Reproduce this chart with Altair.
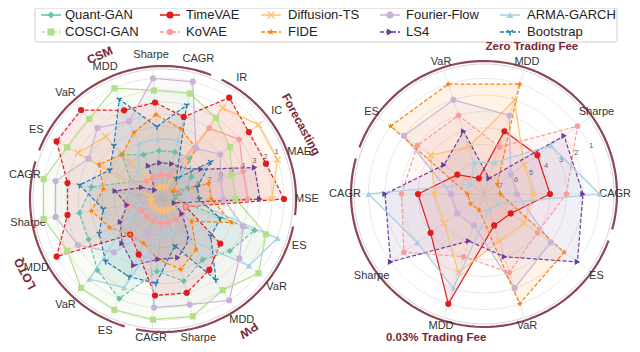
import math
import numpy as np
import pandas as pd
import altair as alt

# ---------------- data ----------------
models = ["Quant-GAN", "COSCI-GAN", "TimeVAE", "KoVAE", "Diffusion-TS", "FIDE",
          "Fourier-Flow", "LS4", "ARMA-GARCH", "Bootstrap"]
colors = ["#66c2a5", "#b2df8a", "#e31a1c", "#fb9a99", "#fdbf6f", "#ff7f00",
          "#cab2d6", "#6a3d9a", "#a6cee3", "#1f78b4"]
markers = ["diamond", "square", "circle", "hexagon", "x", "star",
           "circle", "triangle-right", "triangle-up", "tri_down"]
legend_dashed = [False, True, False, True, False, True, False, True, False, True]

left_axes = ["MSE", "MAE", "IC", "IR",
             "CAGR", "Sharpe", "MDD", "VaR", "ES",
             "CAGR", "Sharpe", "MDD", "VaR", "ES",
             "CAGR", "Sharpe", "MDD", "VaR", "ES"]
left_groups = ["Forecasting", "CSM", "LOTQ", "PW"]
left_group_sizes = [4, 5, 5, 5]
left_ticks = ["1", "2", "3", "4", "5", "6", "7", "8", "9", "10"]

# rank per left axis (1 = best)
quant_gan_left = [10, 9, 8, 7, 7, 7, 7, 6, 8, 5, 4, 4, 3, 2, 5, 4, 5, 4, 3]
cosci_gan_left = [5, 5, 4, 3, 2, 2, 1, 2, 2, 1, 1, 2, 1, 1, 1, 1, 2, 1, 2]
timevae_left = [1, 2, 2, 1, 4, 3, 3, 1, 1, 3, 3, 1, 7, 6, 3, 3, 4, 5, 9]
kovae_left = [4, 4, 3, 4, 9, 9, 9, 9, 8, 8, 8, 9, 9, 9, 9, 9, 9, 9, 9]
diffusion_left = [2, 1, 1, 2, 10, 10, 10, 4, 3, 10, 10, 10, 10, 10, 10, 10, 10, 10, 10]
fide_left = [7, 7, 10, 6, 5, 4, 5, 6, 5, 6, 5, 6, 7, 7, 6, 5, 6, 8, 5]
fourier_left = [6, 6, 5, 6, 1, 1, 4, 3, 4, 2, 2, 3, 5, 8, 2, 2, 1, 3, 4]
ls4_left = [3, 3, 7, 8, 8, 8, 8, 10, 9, 7, 8, 7, 6, 5, 6, 6, 7, 9, 10]
arma_left = [9, 9, 9, 8, 6, 6, 6, 8, 8, 8, 9, 8, 2, 3, 8, 8, 7, 2, 1]
bootstrap_left = [8, 8, 6, 9, 3, 5, 2, 5, 6, 4, 6, 5, 4, 4, 4, 7, 3, 6, 6]
left_dashed = [True, False, True, False, False, True, False, True, False, True]

right_axes = ["CAGR", "Sharpe", "MDD", "VaR", "ES",
              "CAGR", "Sharpe", "MDD", "VaR", "ES"]
right_groups = ["Zero Trading Fee", "0.03% Trading Fee"]
right_group_sizes = [5, 5]
right_ticks = ["1", "2", "3", "4", "5", "6", "7"]
right_models = ["TimeVAE", "KoVAE", "Diffusion-TS", "Fourier-Flow", "FIDE", "LS4", "ARMA-GARCH"]
timevae_right = [4, 4, 4, 7, 6, 4, 4, 1, 6, 6]
kovae_right = [3, 1, 5, 3, 3, 3, 2, 4, 3, 4]
diffusion_right = [5, 5, 2, 5, 4, 5, 5, 3, 5, 5]
fourier_right = [6, 6, 3, 2, 2, 6, 6, 6, 2, 3]
fide_right = [7, 7, 1, 1, 1, 7, 7, 7, 1, 2]
ls4_right = [2, 2, 7, 4, 5, 2, 1, 5, 4, 1]
arma_right = [1, 3, 6, 6, 7, 1, 3, 2, 7, 7]
right_dashed = [False, True, False, False, True, True, False]

left_ranks = [quant_gan_left, cosci_gan_left, timevae_left, kovae_left, diffusion_left,
              fide_left, fourier_left, ls4_left, arma_left, bootstrap_left]
right_ranks = [timevae_right, kovae_right, diffusion_right, fourier_right,
               fide_right, ls4_right, arma_right]

# ---------------- layout (screen pixels) ----------------
LEFT = dict(cx=163, cy=199, unit=12.1, nr=10, outer=130, tick_ang=22.5, lab_r=144)
RIGHT = dict(cx=484, cy=194, unit=16.5, nr=7, outer=130, tick_ang=24.0, lab_r=139)
MAROON = "#7a2634"
GRID = "#e3e3e3"
FONT = "Liberation Sans"
XMIN, XMAX, YMIN, YMAX = 8, 632, 8, 344

XS = alt.Scale(domain=[XMIN, XMAX], nice=False, zero=False)
YS = alt.Scale(domain=[YMIN, YMAX], nice=False, zero=False, reverse=True)


def X(f="x"):
    return alt.X(f"{f}:Q", scale=XS, axis=None)


def Y(f="y"):
    return alt.Y(f"{f}:Q", scale=YS, axis=None)


def pol(g, ang_deg, r):
    a = math.radians(ang_deg)
    return g["cx"] + r * math.cos(a), g["cy"] - r * math.sin(a)


def text_width(s, fs):
    w = 0.0
    for c in s:
        if c.isupper():
            w += 0.72
        elif c in " .":
            w += 0.28
        elif c == "%":
            w += 0.89
        else:
            w += 0.55
    return w * fs


def clamp_text(x, y, s, fs):
    w = text_width(s, fs)
    x = min(max(x, XMIN + w / 2 + 1), XMAX - w / 2 - 1)
    y = min(max(y, YMIN + fs * 0.6), YMAX - fs * 0.55)
    return x, y


def shape_path(name):
    if name == "hexagon":
        return "M0,-1L0.866,-0.5L0.866,0.5L0,1L-0.866,0.5L-0.866,-0.5Z"
    if name == "star":
        pts = []
        for k in range(10):
            rr = 1.0 if k % 2 == 0 else 0.42
            a = math.radians(-90 + 36 * k)
            pts.append(f"{rr * math.cos(a):.3f},{rr * math.sin(a):.3f}")
        return "M" + "L".join(pts) + "Z"
    if name == "x":
        return "M-1,-1L1,1M-1,1L1,-1"
    if name == "tri_down":
        return "M0,0L0,1M0,0L-0.866,-0.5M0,0L0.866,-0.5"
    return name


def point_mark(name, color, size):
    shp = shape_path(name)
    if name in ("x", "tri_down"):
        return dict(shape=shp, filled=False, color=color, size=size, strokeWidth=1.4, opacity=1)
    return dict(shape=shp, filled=True, color=color, size=size, opacity=1)


layers = []


def radar(g, axes, groups, sizes, ticks, names, ranks, dashed, rotate_groups):
    n = len(axes)
    step = 360.0 / n
    angs = [i * step for i in range(n)]
    top = g["nr"] + 1
    # rings
    rows = []
    for ring in range(1, g["nr"] + 1):
        r = ring * g["unit"]
        for k in range(181):
            x, y = pol(g, k * 2, r)
            rows.append(dict(ring=ring, k=k, x=x, y=y))
    layers.append(alt.Chart(pd.DataFrame(rows)).mark_line(color=GRID, strokeWidth=0.8).encode(
        x=X(), y=Y(), detail="ring:N", order="k:Q"))
    rows = []
    for k in range(181):
        x, y = pol(g, k * 2, g["outer"])
        rows.append(dict(k=k, x=x, y=y))
    layers.append(alt.Chart(pd.DataFrame(rows)).mark_line(color="#d6d6d6", strokeWidth=1).encode(
        x=X(), y=Y(), order="k:Q"))
    # spokes
    rows = []
    for a in angs:
        x2, y2 = pol(g, a, g["outer"])
        rows.append(dict(x=g["cx"], y=g["cy"], x2=x2, y2=y2))
    layers.append(alt.Chart(pd.DataFrame(rows)).mark_rule(color=GRID, strokeWidth=0.8).encode(
        x=X(), y=Y(), x2="x2:Q", y2="y2:Q"))
    # group arcs and labels
    start = 0
    for gi, (gname, sz) in enumerate(zip(groups, sizes)):
        a0 = angs[start] - step / 2 + 2.5
        a1 = angs[start + sz - 1] + step / 2 - 2.5
        rows = []
        for k in range(61):
            a = a0 + (a1 - a0) * k / 60
            x, y = pol(g, a, g["outer"] + 3)
            rows.append(dict(k=k, x=x, y=y))
        layers.append(alt.Chart(pd.DataFrame(rows)).mark_line(color=MAROON, strokeWidth=2.2, opacity=0.85).encode(
            x=X(), y=Y(), order="k:Q"))
        mid = (angs[start] + angs[start + sz - 1]) / 2
        if rotate_groups:
            lx, ly = pol(g, mid, 157)
            rot = (90 - mid) % 360
        else:
            lx, ly = pol(g, mid, 155)
            lx, ly = clamp_text(lx, ly, gname, 11.5)
            rot = 0
        layers.append(alt.Chart(pd.DataFrame([dict(x=lx, y=ly, t=gname)])).mark_text(
            font=FONT, fontSize=12 if rotate_groups else 11.5, fontWeight="bold", color=MAROON,
            align="center", baseline="middle", angle=rot).encode(x=X(), y=Y(), text="t:N"))
        start += sz
    # axis labels
    rows = []
    for a, lab in zip(angs, axes):
        x, y = pol(g, a, g["lab_r"])
        x, y = clamp_text(x, y, lab, 11)
        rows.append(dict(x=x, y=y, t=lab))
    layers.append(alt.Chart(pd.DataFrame(rows)).mark_text(
        font=FONT, fontSize=11, color="#333333", align="center", baseline="middle").encode(
        x=X(), y=Y(), text="t:N"))
    # rank ticks
    rows = []
    for k, t in enumerate(ticks, start=1):
        x, y = pol(g, g["tick_ang"], (top - k) * g["unit"] + 2)
        rows.append(dict(x=x, y=y, t=t))
    layers.append(alt.Chart(pd.DataFrame(rows)).mark_text(
        font=FONT, fontSize=7.5, color="#555555", align="center", baseline="middle").encode(
        x=X(), y=Y(), text="t:N"))
    # series
    fills, lines, pts = [], [], []
    for name, rk, dsh in zip(names, ranks, dashed):
        mi = models.index(name)
        col = colors[mi]
        rows = []
        for i, (a, v) in enumerate(zip(angs, rk)):
            x, y = pol(g, a, (top - v) * g["unit"])
            rows.append(dict(i=i, x=x, y=y, model=name))
        closed = rows + [dict(rows[0], i=n)]
        dfc = pd.DataFrame(closed)
        fills.append(alt.Chart(dfc).mark_line(fill=col, fillOpacity=0.09, strokeOpacity=0).encode(
            x=X(), y=Y(), order="i:Q"))
        lk = dict(color=col, strokeWidth=1.2)
        if dsh:
            lk["strokeDash"] = [4, 2]
        lines.append(alt.Chart(dfc).mark_line(**lk).encode(x=X(), y=Y(), order="i:Q"))
        pts.append(alt.Chart(pd.DataFrame(rows)).mark_point(**point_mark(markers[mi], col, 38)).encode(
            x=X(), y=Y()))
    layers.extend(fills)
    layers.extend(lines)
    layers.extend(pts)


# ---------------- legend ----------------
leg_line_x = [41, 160, 261, 380, 500]
leg_text_x = [65, 186, 288, 406, 527]
leg_row_y = [15, 32]
layers.append(alt.Chart(pd.DataFrame([dict(x=35, x2=617, y=8, y2=42)])).mark_rect(
    fill="white", stroke="#cccccc", strokeWidth=1, cornerRadius=2).encode(x=X(), x2="x2:Q", y=Y(), y2="y2:Q"))
for mi, name in enumerate(models):
    col_i, row_i = mi // 2, mi % 2
    x0 = leg_line_x[col_i]
    y0 = leg_row_y[row_i]
    lk = dict(color=colors[mi], strokeWidth=1.5)
    if legend_dashed[mi]:
        lk["strokeDash"] = [4, 2]
    layers.append(alt.Chart(pd.DataFrame([dict(x=x0, x2=x0 + 20, y=y0)])).mark_rule(**lk).encode(
        x=X(), x2="x2:Q", y=Y()))
    layers.append(alt.Chart(pd.DataFrame([dict(x=x0 + 10, y=y0)])).mark_point(
        **point_mark(markers[mi], colors[mi], 50)).encode(x=X(), y=Y()))
    layers.append(alt.Chart(pd.DataFrame([dict(x=leg_text_x[col_i], y=y0, t=name)])).mark_text(
        font=FONT, fontSize=13, color="#222222", align="left", baseline="middle").encode(
        x=X(), y=Y(), text="t:N"))

radar(LEFT, left_axes, left_groups, left_group_sizes, left_ticks, models, left_ranks, left_dashed, True)
radar(RIGHT, right_axes, right_groups, right_group_sizes, right_ticks, right_models, right_ranks,
      right_dashed, False)

chart = alt.layer(*layers).properties(
    width=624, height=336, padding=0,
    autosize=alt.AutoSizeParams(type="none"),
    background="white",
).configure_view(stroke=None)

chart.save("out.html", embed_options={"renderer": "svg", "actions": False})
